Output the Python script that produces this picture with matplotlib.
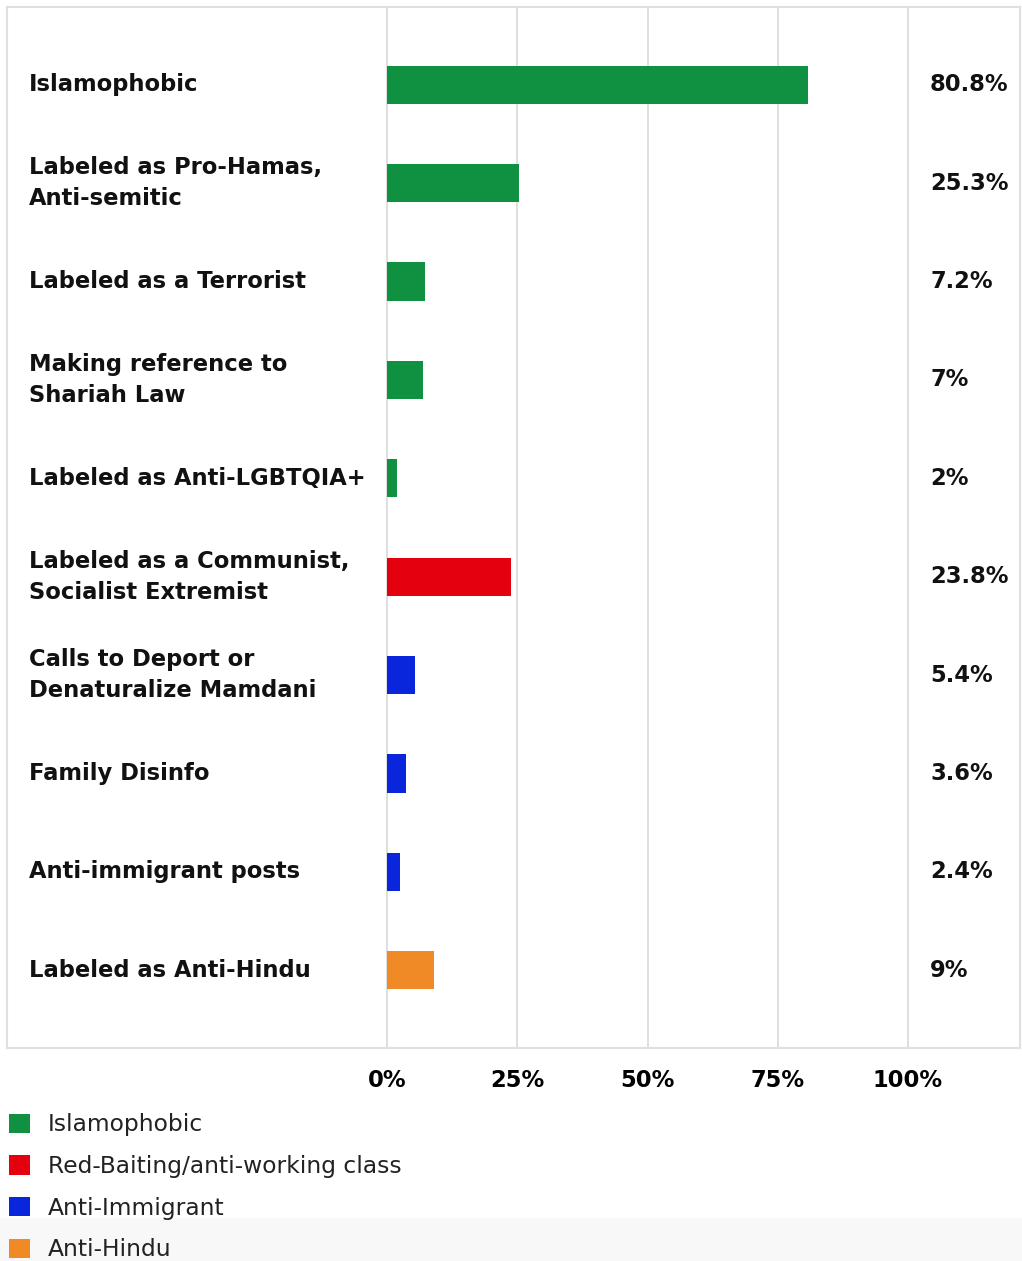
import matplotlib.pyplot as plt
from matplotlib.patches import Patch, Rectangle
from matplotlib.transforms import blended_transform_factory

# ---- data ----
categories = [
    "Islamophobic",
    "Labeled as Pro-Hamas,\nAnti-semitic",
    "Labeled as a Terrorist",
    "Making reference to\nShariah Law",
    "Labeled as Anti-LGBTQIA+",
    "Labeled as a Communist,\nSocialist Extremist",
    "Calls to Deport or\nDenaturalize Mamdani",
    "Family Disinfo",
    "Anti-immigrant posts",
    "Labeled as Anti-Hindu",
]
values = [80.8, 25.3, 7.2, 7, 2, 23.8, 5.4, 3.6, 2.4, 9]
value_labels = ["80.8%", "25.3%", "7.2%", "7%", "2%", "23.8%", "5.4%", "3.6%", "2.4%", "9%"]
groups = ["Islamophobic"] * 5 + ["Red-Baiting/anti-working class"] + ["Anti-Immigrant"] * 3 + ["Anti-Hindu"]
group_names = ["Islamophobic", "Red-Baiting/anti-working class", "Anti-Immigrant", "Anti-Hindu"]
group_colors = {
    "Islamophobic": "#0f9141",
    "Red-Baiting/anti-working class": "#e5000f",
    "Anti-Immigrant": "#0a26dc",
    "Anti-Hindu": "#ef8a26",
}
xticks = [0, 25, 50, 75, 100]

plt.rcParams['font.family'] = ['DejaVu Sans']

W, H = 1022, 1261
fig = plt.figure(figsize=(W / 100, H / 100), dpi=100)

# light grey band at the bottom of the picture
fig.patches.append(Rectangle((0, 0), 1, (H - 1218) / H, transform=fig.transFigure,
                             facecolor="#f8f8f8", edgecolor="none", zorder=0))

# axes box in pixels: left 7, right 1020, top 7, bottom 1048
ax = fig.add_axes([7 / W, 1 - 1048 / H, 1013 / W, 1041 / H])
x0_px, x100_px = 387, 908
per_px = 100 / (x100_px - x0_px)
ax.set_xlim(-(x0_px - 7) * per_px, 100 + (1020 - x100_px) * per_px)
ax.set_ylim(9.79, -0.79)

ypos = list(range(len(categories)))
ax.barh(ypos, values, height=0.39, color=[group_colors[g] for g in groups], zorder=3)

for x in xticks:
    ax.axvline(x, color="#dcdcdc", linewidth=1.3, zorder=1)

ax.set_xticks(xticks)
ax.set_xticklabels([f"{t}%" for t in xticks], fontsize=16.3, fontweight="bold")
ax.tick_params(axis="x", length=0, pad=15)
ax.set_yticks([])
for s in ax.spines.values():
    s.set_color("#e0e0e0")
    s.set_linewidth(1.5)

tr = blended_transform_factory(ax.transAxes, ax.transData)
for y, cat, lab in zip(ypos, categories, value_labels):
    ax.text(22 / 1013, y, cat, transform=tr, ha="left", va="center",
            fontsize=16.3, fontweight="bold", color="#111111", linespacing=1.45)
    ax.text(923 / 1013, y, lab, transform=tr, ha="left", va="center",
            fontsize=16.3, fontweight="bold", color="#111111")

handles = [Patch(facecolor=group_colors[g], edgecolor="none") for g in group_names]
fig.legend(handles, group_names, loc="upper left",
           bbox_to_anchor=(0 / W, 1 - 1104 / H), frameon=False, fontsize=16.8,
           handlelength=0.9, handleheight=0.9, handletextpad=0.75,
           labelspacing=0.8, borderaxespad=0, labelcolor="#222222")

fig.savefig("out.png", dpi=100)
